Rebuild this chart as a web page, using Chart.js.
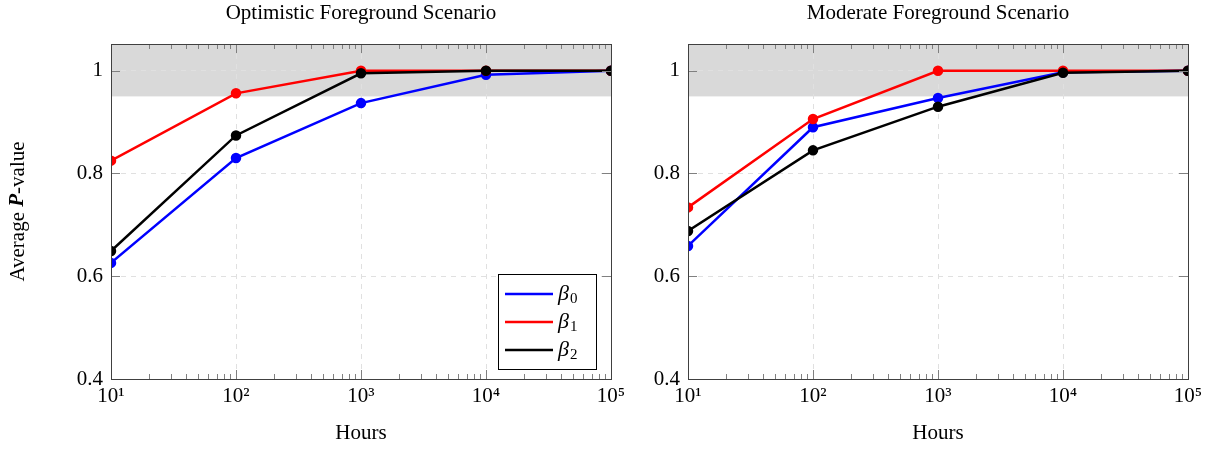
<!DOCTYPE html>
<html>
<head>
<meta charset="utf-8">
<script src="https://cdn.jsdelivr.net/npm/chart.js@4/dist/chart.umd.min.js"></script>
<style>
  body { margin: 0; background: #fff; }
  #wrap { position: relative; width: 1215px; height: 451px; }
  .box { position: absolute; top: 0; height: 451px; }
</style>
</head>
<body>
<div id="wrap">
  <div class="box" style="left:0;width:640px"><canvas id="esq"></canvas></div>
  <div class="box" style="left:640px;width:575px"><canvas id="dir"></canvas></div>
</div>
<script>
// dados
const horas = [10, 100, 1000, 10000, 100000];
const otimB0 = [0.626, 0.830, 0.937, 0.992, 1.0];
const otimB1 = [0.825, 0.956, 1.0, 1.0, 1.0];
const otimB2 = [0.649, 0.874, 0.995, 1.0, 1.0];
const modB0 = [0.659, 0.890, 0.947, 0.997, 1.0];
const modB1 = [0.734, 0.906, 1.0, 1.0, 1.0];
const modB2 = [0.688, 0.845, 0.930, 0.996, 1.0];
const nomesSeries = ['β0', 'β1', 'β2'];
const coresSeries = ['#0000ff', '#ff0000', '#000000'];
const ticksY = [0.4, 0.6, 0.8, 1];
const ticksX = [10, 100, 1000, 10000, 100000];
const sobrescrito = {1: '¹', 2: '²', 3: '³', 4: '⁴', 5: '⁵'};

const FONTE = "'Liberation Serif', 'Times New Roman', serif";

// faixa cinza, marcas menores, moldura, legenda, títulos
const pluginExtras = {
  id: 'extras',
  beforeDraw(chart) {
    const {ctx, chartArea: a, scales: {y}} = chart;
    ctx.save();
    ctx.fillStyle = '#d9d9d9';
    const y0 = y.getPixelForValue(0.95);
    ctx.fillRect(a.left, a.top, a.right - a.left, y0 - a.top);
    ctx.restore();
  },
  afterDraw(chart, args, opts) {
    const {ctx, chartArea: a, scales: {x, y}} = chart;
    ctx.save();
    // marcas do eixo x
    ctx.strokeStyle = '#808080';
    ctx.lineWidth = 1;
    for (let k = 1; k < 5; k++) {
      for (let m = 1; m < 10; m++) {
        const v = m * Math.pow(10, k);
        const px = Math.round(x.getPixelForValue(v)) + 0.5;
        const len = m === 1 ? 9 : 5;
        if (m === 1 && k === 1) continue;
        ctx.beginPath();
        ctx.moveTo(px, a.bottom); ctx.lineTo(px, a.bottom - len);
        ctx.moveTo(px, a.top); ctx.lineTo(px, a.top + len);
        ctx.stroke();
      }
    }
    // marcas do eixo y
    ticksY.forEach(v => {
      const py = Math.round(y.getPixelForValue(v)) + 0.5;
      ctx.beginPath();
      ctx.moveTo(a.left, py); ctx.lineTo(a.left + 9, py);
      ctx.moveTo(a.right, py); ctx.lineTo(a.right - 9, py);
      ctx.stroke();
    });
    // moldura
    ctx.strokeStyle = '#404040';
    ctx.strokeRect(Math.round(a.left) + 0.5, Math.round(a.top) + 0.5,
      Math.round(a.right - a.left), Math.round(a.bottom - a.top));

    // título centrado na área do gráfico
    ctx.fillStyle = '#000';
    ctx.textAlign = 'center';
    ctx.textBaseline = 'middle';
    ctx.font = '21px ' + FONTE;
    ctx.fillText(opts.titulo, (a.left + a.right) / 2, 13);

    if (opts.legenda) {
      const lx = 498, ly = 274, lw = 98, lh = 95;
      ctx.fillStyle = '#fff';
      ctx.fillRect(lx, ly, lw, lh);
      ctx.strokeStyle = '#000';
      ctx.strokeRect(lx + 0.5, ly + 0.5, lw, lh);
      chart.data.datasets.forEach((ds, i) => {
        const yy = ly + 20 + i * 28;
        ctx.strokeStyle = ds.borderColor;
        ctx.lineWidth = 2.5;
        ctx.beginPath();
        ctx.moveTo(lx + 7, yy); ctx.lineTo(lx + 55, yy);
        ctx.stroke();
        ctx.fillStyle = '#000';
        ctx.textBaseline = 'middle';
        ctx.textAlign = 'left';
        ctx.font = 'italic 22px ' + FONTE;
        ctx.fillText(ds.label.charAt(0), lx + 60, yy);
        const w = ctx.measureText(ds.label.charAt(0)).width;
        ctx.font = '15px ' + FONTE;
        ctx.fillText(ds.label.slice(1), lx + 61 + w, yy + 5);
      });
    }
    if (opts.tituloY) {
      ctx.translate(18, (a.top + a.bottom) / 2);
      ctx.rotate(-Math.PI / 2);
      ctx.fillStyle = '#000';
      ctx.textBaseline = 'middle';
      ctx.textAlign = 'left';
      const partes = [['Average ', '21px '], ['P', 'italic bold 21px '], ['-value', '21px ']];
      let total = 0;
      partes.forEach(p => { ctx.font = p[1] + FONTE; total += ctx.measureText(p[0]).width; });
      let cx = -total / 2;
      partes.forEach(p => {
        ctx.font = p[1] + FONTE;
        ctx.fillText(p[0], cx, 0);
        cx += ctx.measureText(p[0]).width;
      });
    }
    ctx.restore();
  }
};

function montarGrafico(id, titulo, series, larguraY, padDireita, comLegenda) {
  const datasets = series.map((s, i) => ({
    label: nomesSeries[i],
    data: horas.map((h, j) => ({x: h, y: s[j]})),
    borderColor: coresSeries[i],
    backgroundColor: coresSeries[i],
    borderWidth: 2.5,
    pointRadius: 4,
    pointHoverRadius: 4,
    order: 3 - i,
    tension: 0
  }));
  return new Chart(document.getElementById(id), {
    type: 'line',
    data: { datasets },
    options: {
      responsive: true,
      maintainAspectRatio: false,
      animation: false,
      layout: { padding: { left: 0, right: padDireita, top: 44, bottom: 0 } },
      plugins: {
        legend: { display: false },
        tooltip: { enabled: false },
        title: { display: false },
        extras: { legenda: comLegenda, tituloY: comLegenda, titulo: titulo }
      },
      scales: {
        x: {
          type: 'logarithmic',
          min: 10,
          max: 100000,
          afterBuildTicks: s => { s.ticks = ticksX.map(v => ({value: v})); },
          afterFit: s => { s.height = 72; },
          grid: { color: '#e0e0e0', drawTicks: false },
          border: { display: false, dash: [5, 5] },
          ticks: {
            color: '#000',
            padding: 5,
            font: { family: FONTE, size: 21 },
            maxRotation: 0,
            autoSkip: false,
            callback: v => '10' + sobrescrito[Math.round(Math.log10(v))]
          },
          title: {
            display: true,
            text: 'Hours',
            color: '#000',
            font: { family: FONTE, size: 21 },
            padding: { top: 0, bottom: 5 }
          }
        },
        y: {
          min: 0.4,
          max: 1.052,
          afterBuildTicks: s => { s.ticks = ticksY.map(v => ({value: v})); },
          afterFit: s => { s.width = larguraY; },
          grid: { color: '#e0e0e0', drawTicks: false },
          border: { display: false, dash: [5, 5] },
          ticks: {
            color: '#000',
            padding: 8,
            font: { family: FONTE, size: 21 },
            callback: v => String(Number(v.toFixed(1)))
          }
        }
      }
    },
    plugins: [pluginExtras]
  });
}

montarGrafico('esq', 'Optimistic Foreground Scenario', [otimB0, otimB1, otimB2], 111, 29, true);
montarGrafico('dir', 'Moderate Foreground Scenario', [modB0, modB1, modB2], 48, 27, false);
</script>
</body>
</html>
